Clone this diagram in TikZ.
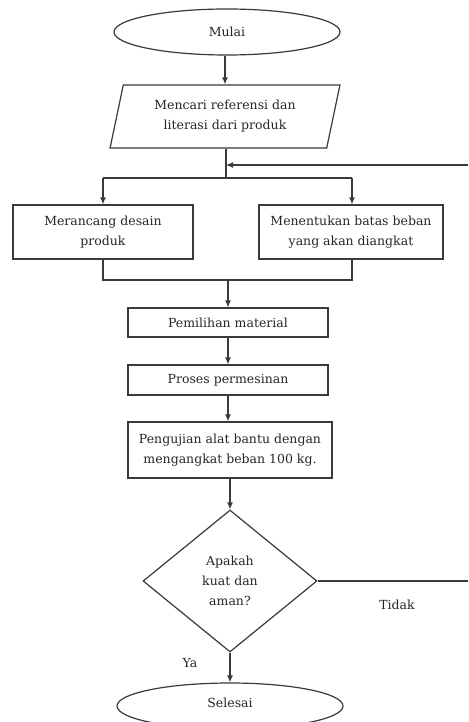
\documentclass[tikz,border=0pt]{standalone}
\usepackage{fontspec}
\setmainfont{DejaVu Serif}
\usetikzlibrary{shapes.geometric,arrows.meta}
\definecolor{ln}{HTML}{3A3A3A}
\definecolor{tx}{HTML}{262626}
\begin{document}
\begin{tikzpicture}[x=1pt,y=-1pt,
  every node/.style={text=tx,font=\fontsize{12.5}{20}\selectfont,align=center,inner sep=0pt},
  box/.style={draw=ln,line width=1.2pt,rectangle},
  oval/.style={draw=ln,line width=1.2pt,ellipse,minimum width=226pt,minimum height=46pt},
  para/.style={draw=ln,line width=1.2pt,trapezium,trapezium left angle=74,trapezium right angle=106,trapezium stretches=true,minimum width=230pt,minimum height=63pt},
  dec/.style={draw=ln,line width=1.2pt,diamond,minimum width=174pt,minimum height=142pt},
  ln/.style={draw=ln,line width=1.2pt},
  arr/.style={ln,-{Latex[length=7pt,width=6pt]}}]
\clip (0,0) rectangle (468,722);
\fill[white] (0,0) rectangle (468,722);
% nodes
\node[oval] (mulai) at (227,32) {Mulai};
\node[para] (cari) at (225,116.5) {Mencari referensi dan\\literasi dari produk};
\node[box,minimum width=180pt,minimum height=54pt] (desain) at (103,232) {Merancang desain\\produk};
\node[box,minimum width=184pt,minimum height=54pt] (batas) at (351,232) {Menentukan batas beban\\yang akan diangkat};
\node[box,minimum width=200pt,minimum height=29pt] (pilih) at (228,322.5) {Pemilihan material};
\node[box,minimum width=200pt,minimum height=30pt] (proses) at (228,380) {Proses permesinan};
\node[box,minimum width=204pt,minimum height=56pt] (uji) at (230,450) {Pengujian alat bantu dengan\\mengangkat beban 100 kg.};
\node[dec] (kuat) at (230,581) {};
\node (kuattx) at (230,581) {Apakah\\kuat dan\\aman?};
\node[oval] (selesai) at (230,706) {};
\node (selesaitx) at (230,703) {Selesai};
\node (tidak) at (397,605) {Tidak};
\node (ya) at (190,663) {Ya};
% coordinates
\coordinate (split) at (226,178);
\coordinate (splitL) at (103,178);
\coordinate (splitR) at (352,178);
\coordinate (fb) at (226,165);
\coordinate (fbR) at (468,165);
\coordinate (mergeL) at (103,280);
\coordinate (mergeR) at (352,280);
\coordinate (merge) at (228,280);
\coordinate (tidR) at (468,581);
% connectors
\draw[arr] (mulai.south -| 225,0) -- (cari.north -| 225,0);
\draw[ln] (cari.south -| 226,0) -- (split);
\draw[arr] (fbR) -- (fb);
\draw[ln] (splitL) -- (splitR);
\draw[arr] (splitL) -- (desain.north);
\draw[arr] (splitR) -- (batas.north -| splitR);
\draw[ln] (desain.south) -- (mergeL) -- (mergeR) -- (batas.south -| mergeR);
\draw[arr] (merge) -- (pilih.north);
\draw[arr] (pilih.south) -- (proses.north);
\draw[arr] (proses.south) -- (uji.north -| proses.south);
\draw[arr] (uji.south) -- (kuat.north);
\draw[ln] (kuat.east) -- (tidR);
\draw[arr] (kuat.south) -- (selesai.north);
\end{tikzpicture}
\end{document}
